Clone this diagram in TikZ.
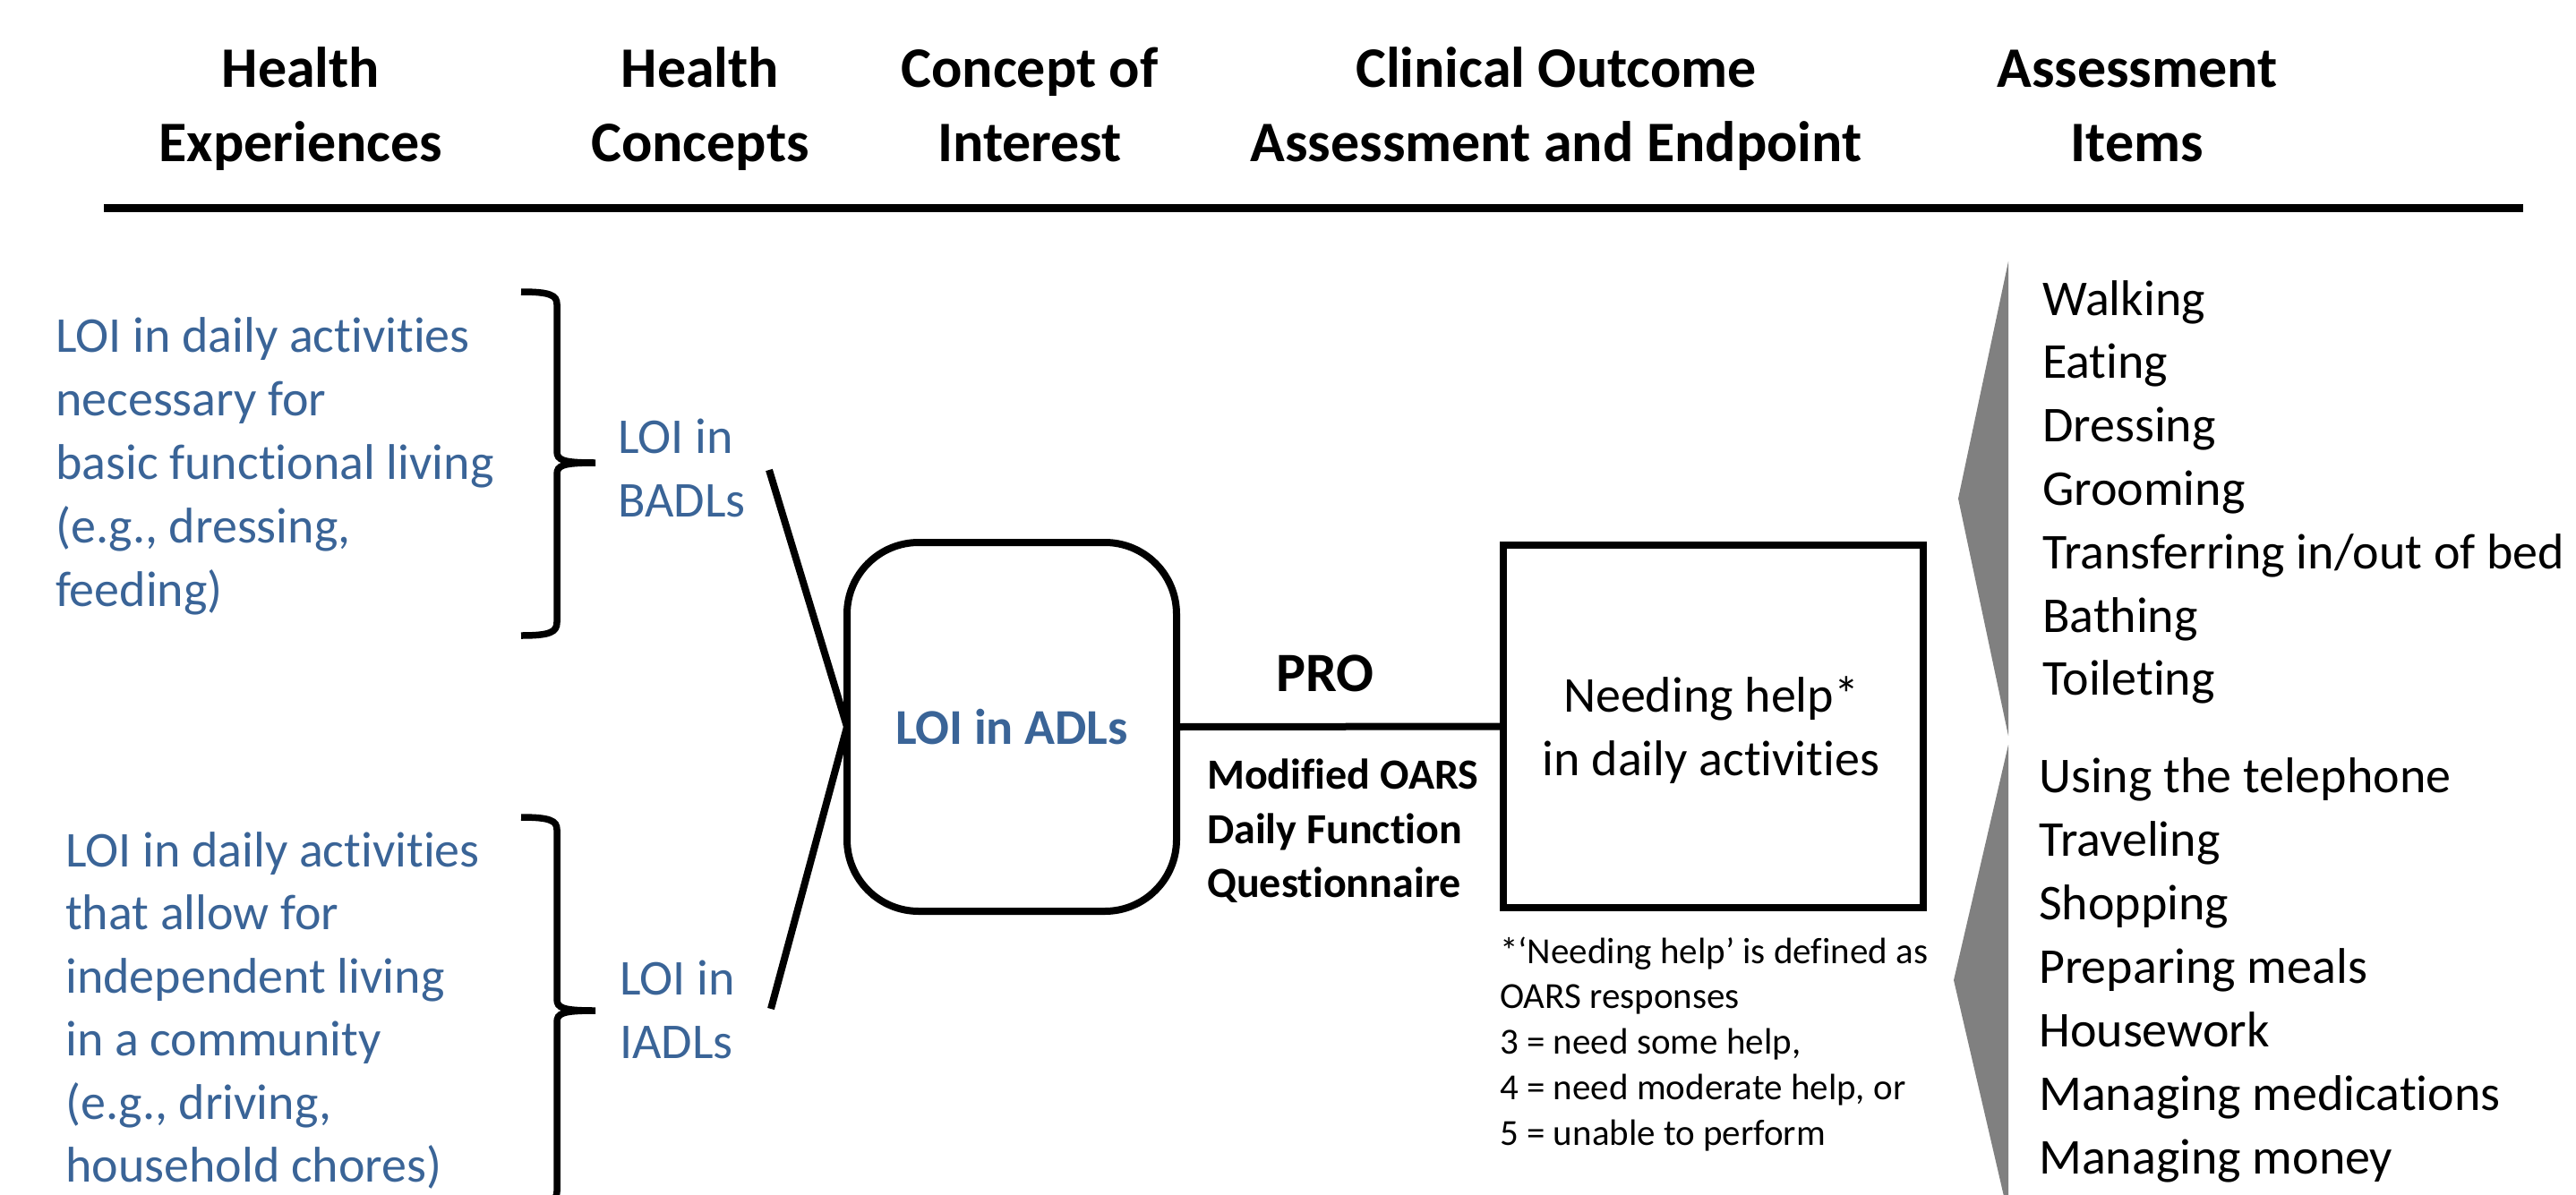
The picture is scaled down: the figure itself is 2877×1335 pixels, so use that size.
\documentclass[tikz,border=0pt]{standalone}
\usepackage{fontspec}
\setmainfont{Carlito}[Ligatures={NoCommon}]
\definecolor{loiblue}{HTML}{3A6497}
\definecolor{chev}{HTML}{808080}
\tikzset{
  hdr/.style={font=\bfseries\fontsize{64}{82}\selectfont, anchor=base, inner sep=0pt},
  bluetxt/.style={font=\fontsize{56}{71}\selectfont, text=loiblue, anchor=base west, inner sep=0pt},
  itemtxt/.style={font=\fontsize{56}{71}\selectfont, anchor=base west, inner sep=0pt},
  foottxt/.style={font=\fontsize{41}{51}\selectfont, anchor=base west, inner sep=0pt},
  protxt/.style={font=\bfseries\fontsize{48}{61}\selectfont, anchor=base west, inner sep=0pt},
  conn/.style={line width=8pt},
  bracestyle/.style={line width=7.5pt},
  boxstyle/.style={draw, line width=8pt, inner sep=0pt, outer sep=0pt}
}
\begin{document}
\begin{tikzpicture}[x=1pt,y=-1pt]
\useasboundingbox (0,0) rectangle (2877,1335);
\clip (0,0) rectangle (2877,1335);

% headers
\foreach \x/\a/\b [count=\i] in {336/Health/Experiences, 782/Health/Concepts, 1150/Concept of/Interest, 1738/Clinical Outcome/Assessment and Endpoint, 2387/Assessment/Items} {
  \node[hdr] (h\i a) at (\x,98) {\a};
  \node[hdr] (h\i b) at (\x,180) {\b};
}
\coordinate (rl) at (116,232.5);
\coordinate (rr) at (2818,232.5);
\draw[line width=9pt] (rl) -- (rr);

% health experiences
\foreach \t [count=\i] in {LOI in daily activities, necessary for, basic functional living, {(e.g., dressing,}, feeding)} {
  \node[bluetxt] (ea\i) at (62,{393+71*(\i-1)}) {\t};
}
\foreach \t [count=\i] in {LOI in daily activities, that allow for, independent living, in a community, {(e.g., driving,}, household chores)} {
  \node[bluetxt] (eb\i) at (73,{968+70.5*(\i-1)}) {\t};
}

% braces
\draw[bracestyle] (582,326) .. controls (615,326) and (622,330) .. (622,340)
  -- (622,504) .. controls (622,514) and (628,517) .. (665,517)
  .. controls (628,517) and (622,520) .. (622,530)
  -- (622,695) .. controls (622,706) and (615,710) .. (582,710);
\draw[bracestyle] (582,913) .. controls (615,913) and (622,917) .. (622,927)
  -- (622,1116) .. controls (622,1126) and (628,1129) .. (665,1129)
  .. controls (628,1129) and (622,1132) .. (622,1142)
  -- (622,1331) .. controls (622,1341) and (615,1345) .. (582,1345);

% health concepts
\node[bluetxt] (ca1) at (690,506) {LOI in};
\node[bluetxt] (ca2) at (690,577) {BADLs};
\node[bluetxt] (cb1) at (692,1111) {LOI in};
\node[bluetxt] (cb2) at (692,1182) {IADLs};

% concept of interest
\node[boxstyle, rounded corners=80pt, minimum width=368pt, minimum height=412pt,
      font=\bfseries\fontsize{56}{71}\selectfont, text=loiblue] (adl) at (1130,812) {LOI in ADLs};
\coordinate (b1) at (859,525);
\coordinate (b2) at (861,1127);
\draw[conn] (b1) -- (adl.west);
\draw[conn] (b2) -- (adl.west);

% outcome box
\node[boxstyle, minimum width=469pt, minimum height=405pt] (need) at (1913.5,811.5) {};
\draw[conn] (adl.east) -- (need.west);
\node[font=\fontsize{56}{71}\selectfont, anchor=base, inner sep=0pt] (n1) at (1911,795) {Needing help*};
\node[font=\fontsize{56}{71}\selectfont, anchor=base, inner sep=0pt] (n2) at (1911,866) {in daily activities};

\node[font=\bfseries\fontsize{62}{75}\selectfont, anchor=base, inner sep=0pt] (pro) at (1480,772) {PRO};
\node[protxt] (q1) at (1348,881) {Modified OARS};
\node[protxt] (q2) at (1348,942) {Daily Function};
\node[protxt] (q3) at (1348,1002) {Questionnaire};

% footnote
\foreach \t [count=\i] in {*‘Needing help’ is defined as, OARS responses, {3 = need some help,}, {4 = need moderate help, or}, 5 = unable to perform} {
  \node[foottxt] (f\i) at (1675,{1076+50.8*(\i-1)}) {\t};
}

% chevrons
\fill[chev] (2243,292) -- (2187,557) -- (2243,822) -- cycle;
\fill[chev] (2243,832) -- (2182,1095) -- (2243,1358) -- cycle;

% items
\foreach \t [count=\i] in {Walking, Eating, Dressing, Grooming, Transferring in/out of bed, Bathing, Toileting} {
  \node[itemtxt] (ia\i) at (2281,{352+70.8*(\i-1)}) {\t};
}
\foreach \t [count=\i] in {Using the telephone, Traveling, Shopping, Preparing meals, Housework, Managing medications, Managing money} {
  \node[itemtxt] (ib\i) at (2277,{885+71*(\i-1)}) {\t};
}
\end{tikzpicture}
\end{document}
